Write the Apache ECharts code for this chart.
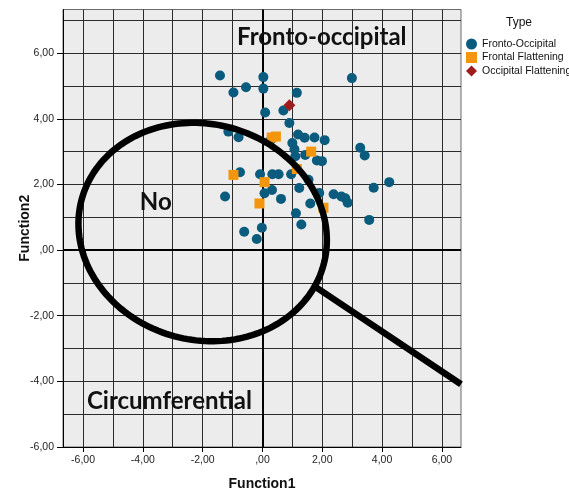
<!DOCTYPE html>
<html><head><meta charset="utf-8">
<script src="https://cdn.jsdelivr.net/npm/echarts@6/dist/echarts.min.js"></script>
<style>html,body{margin:0;padding:0;background:#fff}#c{width:569px;height:492px}</style>
</head><body><div id="c"></div>
<script>
// ---- data ----
const seriesNames = ['Fronto-Occipital', 'Frontal Flattening', 'Occipital Flattening'];

const frontoOccipitalX = [-1.42, 0.03, 2.99, -0.55, 0.03, -0.97, 1.15, 0.09, 0.70, 0.90,
  -1.14, -0.80, 0.26, 1.19, 1.41, 1.74, 2.08, 1.00, 1.07, 1.10,
  1.43, 1.82, 1.99, 3.27, 3.42, -0.75, -0.08, 0.33, 0.54, 0.96,
  1.54, 1.23, 3.72, 4.24, -1.25, 0.07, 0.32, 0.62, 1.90, 2.38,
  2.64, 2.77, 2.85, 1.60, 1.12, 1.30, 3.57, -0.61, -0.02, -0.19];
const frontoOccipitalY = [5.32, 5.27, 5.24, 4.96, 4.92, 4.80, 4.79, 4.19, 4.25, 3.87,
  3.61, 3.44, 3.33, 3.52, 3.42, 3.43, 3.35, 3.26, 3.07, 2.86,
  2.90, 2.73, 2.71, 3.12, 2.88, 2.37, 2.31, 2.31, 2.31, 2.31,
  2.14, 1.89, 1.90, 2.07, 1.63, 1.73, 1.83, 1.56, 1.74, 1.70,
  1.63, 1.58, 1.44, 1.42, 1.12, 0.78, 0.92, 0.56, 0.68, 0.34];

const frontalFlatteningX = [0.31, 0.45, 1.63, 1.15, -0.97, 0.07, -0.10, 2.04];
const frontalFlatteningY = [3.43, 3.46, 3.00, 2.47, 2.29, 2.07, 1.42, 1.29];

const occipitalFlatteningX = [0.90];
const occipitalFlatteningY = [4.41];

const xTicks = [-6, -4, -2, 0, 2, 4, 6];
const xTickLabels = ['-6,00', '-4,00', '-2,00', ',00', '2,00', '4,00', '6,00'];
const yTicks = [-6, -4, -2, 0, 2, 4, 6];
const yTickLabels = ['-6,00', '-4,00', '-2,00', ',00', '2,00', '4,00', '6,00'];
const xRange = [-6.67, 6.64];
const yRange = [-6, 7.33];

const xAxisTitle = 'Function1';
const yAxisTitle = 'Function2';
const legendTitle = 'Type';

// annotations (in data units)
const annotationTexts = ['Fronto-occipital', 'No', 'Circumferential'];
const annotationAnchors = [[-0.85, 6.47], [-4.10, 1.47], [-5.87, -4.62]];
const loupeCenter = [-2.0, 0.55];
const loupeRadiusX = 4.19;   // x units
const loupeRadiusY = 3.29;   // y units
const loupeTiltDeg = 15;
const handleX = [1.77, 6.64];
const handleY = [-1.12, -4.09];

// ---- chart ----
const FONT = 'Arial, "Liberation Sans", sans-serif';
const toPairs = (xs, ys) => xs.map((x, i) => [x, ys[i]]);
const fmt = (ticks, labels) => v => { const i = ticks.indexOf(v); return i >= 0 ? labels[i] : ''; };

const chart = echarts.init(document.getElementById('c'), null, {renderer: 'canvas'});

const gridLine = {show: true, lineStyle: {color: '#2b2b2b', width: 1}};

chart.setOption({
  animation: false,
  backgroundColor: '#ffffff',
  title: {text: legendTitle, left: 506, top: 17, padding: 0,
    textStyle: {fontSize: 12, fontWeight: 'normal', color: '#111', fontFamily: FONT}},
  legend: {
    orient: 'vertical', left: 466, top: 38.5, padding: 0,
    itemWidth: 11, itemHeight: 11, itemGap: 2.5, selectedMode: false,
    textStyle: {fontSize: 10.5, color: '#111', fontFamily: FONT},
    data: [{name: seriesNames[0], icon: 'circle'}, {name: seriesNames[1], icon: 'rect'}, {name: seriesNames[2], icon: 'diamond'}]
  },
  grid: {left: 63, right: 108, top: 9.5, bottom: 45, show: true, outerBoundsMode: 'none',
    backgroundColor: '#ececec', borderColor: '#6a6a6a', borderWidth: 1},
  xAxis: {
    type: 'value', min: xRange[0], max: xRange[1], splitNumber: 7,
    name: xAxisTitle, nameLocation: 'middle', nameGap: 30, nameMoveOverlap: false,
    nameTextStyle: {fontSize: 14, fontWeight: 'bold', color: '#111', fontFamily: FONT},
    axisLine: {show: true, onZero: false, lineStyle: {color: '#000', width: 1}},
    axisTick: {show: true, length: 5, customValues: xTicks, lineStyle: {color: '#000'}},
    axisLabel: {customValues: xTicks, formatter: fmt(xTicks, xTickLabels), margin: 8,
      fontSize: 10.5, color: '#222', fontFamily: FONT},
    splitLine: gridLine,
    minorTick: {show: false, splitNumber: 2},
    minorSplitLine: gridLine
  },
  yAxis: {
    type: 'value', min: yRange[0], max: yRange[1], splitNumber: 7,
    name: yAxisTitle, nameLocation: 'middle', nameGap: 31, nameMoveOverlap: false,
    nameTextStyle: {fontSize: 14, fontWeight: 'bold', color: '#111', fontFamily: FONT},
    axisLine: {show: true, onZero: false, lineStyle: {color: '#000', width: 1}},
    axisTick: {show: true, length: 6, customValues: yTicks, lineStyle: {color: '#000'}},
    axisLabel: {customValues: yTicks, formatter: fmt(yTicks, yTickLabels), margin: 9,
      fontSize: 10.5, color: '#222', fontFamily: FONT},
    splitLine: gridLine,
    minorTick: {show: false, splitNumber: 2},
    minorSplitLine: gridLine
  },
  series: [
    {
      name: seriesNames[0], type: 'scatter', symbol: 'circle', symbolSize: 10, z: 2,
      itemStyle: {color: '#0a5b7d', opacity: 1},
      data: toPairs(frontoOccipitalX, frontoOccipitalY),
      markLine: {silent: true, symbol: 'none', z: 1, animation: false,
        label: {show: false}, emphasis: {disabled: true},
        lineStyle: {color: '#000', width: 2, type: 'solid'},
        data: [{xAxis: 0}, {yAxis: 0}]}
    },
    {
      name: seriesNames[1], type: 'scatter', symbol: 'rect', symbolSize: 10, z: 3,
      itemStyle: {color: '#f4960d', opacity: 1},
      data: toPairs(frontalFlatteningX, frontalFlatteningY)
    },
    {
      name: seriesNames[2], type: 'scatter', symbol: 'diamond', symbolSize: 12, z: 4,
      itemStyle: {color: '#9e1c1c', opacity: 1},
      data: toPairs(occipitalFlatteningX, occipitalFlatteningY)
    },
    {
      name: 'handle', type: 'line', showSymbol: false, silent: true, z: 6,
      lineStyle: {color: '#000', width: 6.5},
      data: toPairs(handleX, handleY)
    }
  ]
});

// loupe ring + annotation texts positioned through the grid's coordinate system
function drawOverlays() {
  const toPx = p => chart.convertToPixel({gridIndex: 0}, p);
  const c = toPx(loupeCenter);
  const rx = Math.abs(toPx([loupeCenter[0] + loupeRadiusX, loupeCenter[1]])[0] - c[0]);
  const ry = Math.abs(toPx([loupeCenter[0], loupeCenter[1] + loupeRadiusY])[1] - c[1]);
  const phi = loupeTiltDeg * Math.PI / 180;
  const pts = [];
  for (let k = 0; k < 180; k++) {
    const t = k / 180 * 2 * Math.PI;
    const ex = rx * Math.cos(t), ey = ry * Math.sin(t);
    pts.push([c[0] + ex * Math.cos(phi) - ey * Math.sin(phi), c[1] + ex * Math.sin(phi) + ey * Math.cos(phi)]);
  }
  const texts = annotationTexts.map((s, i) => {
    const p = toPx(annotationAnchors[i]);
    return {type: 'text', x: p[0], y: p[1], z: 20, silent: true,
      style: {text: s, fill: '#111', font: 'bold 24px Lato, sans-serif',
        textAlign: 'left', textVerticalAlign: 'middle'}};
  });
  chart.setOption({graphic: [
    {type: 'polygon', z: 15, silent: true, shape: {points: pts},
      style: {fill: 'none', stroke: '#000', lineWidth: 6.5}},
    ...texts
  ]});
}
drawOverlays();
</script>
</body></html>
